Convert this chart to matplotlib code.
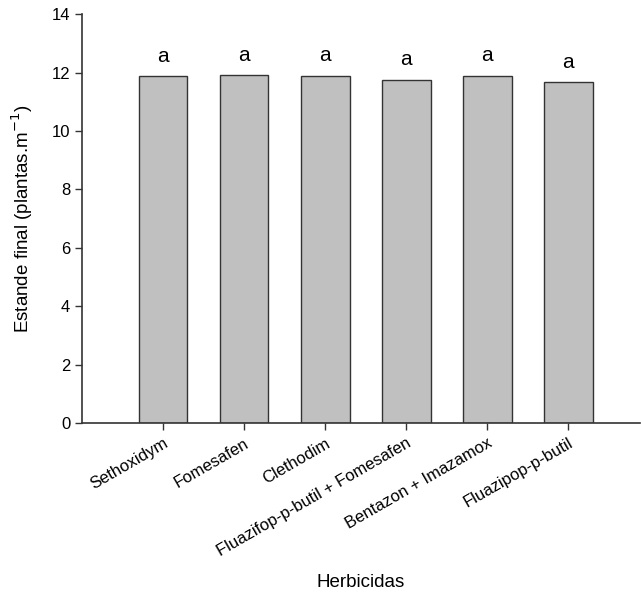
import matplotlib.pyplot as plt

plt.rcParams['font.family'] = ['Liberation Sans', 'DejaVu Sans']

herbicidas = ['Sethoxidym', 'Fomesafen', 'Clethodim', 'Fluazifop-p-butil + Fomesafen',
              'Bentazon + Imazamox', 'Fluazipop-p-butil']
estande = [11.88, 11.92, 11.90, 11.76, 11.90, 11.67]
letras = ['a', 'a', 'a', 'a', 'a', 'a']

fig = plt.figure(figsize=(6.41, 5.95), dpi=100)
ax = fig.add_axes([0.128, 0.289, 0.87, 0.687])

x = range(len(herbicidas))
ax.bar(x, estande, width=0.6, color='#c0c0c0', edgecolor='#333333', linewidth=1.0)

for i, (v, l) in enumerate(zip(estande, letras)):
    ax.text(i, v + 0.35, l, ha='center', va='bottom', fontsize=15)

ax.set_xlim(-1, 5.88)
ax.set_ylim(0, 14)
ax.set_yticks(range(0, 15, 2))
ax.set_xticks(list(x))
ax.set_xticklabels(herbicidas, rotation=30, ha='right', va='top', rotation_mode='anchor')
ax.tick_params(labelsize=12, direction='out', length=5, width=1, colors='#333333', labelcolor='black')
ax.tick_params(axis='x', pad=4)

ax.spines['top'].set_visible(False)
ax.spines['right'].set_visible(False)
for s in ['left', 'bottom']:
    ax.spines[s].set_color('#333333')
    ax.spines[s].set_linewidth(1.2)

ax.set_xlabel('Herbicidas', fontsize=13.5)
ax.xaxis.set_label_coords(0.5, -0.37)
ax.set_ylabel('Estande final (plantas.m$^{-1}$)', fontsize=13.5)
ax.yaxis.set_label_coords(-0.085, 0.5)

fig.savefig('out.png', dpi=100)
